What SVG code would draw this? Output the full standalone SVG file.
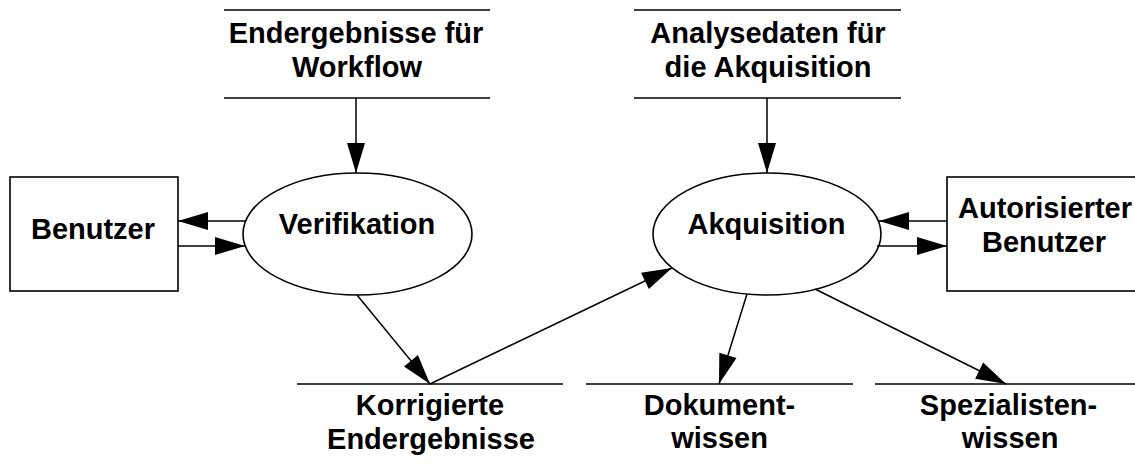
<svg xmlns="http://www.w3.org/2000/svg" width="1135" height="468" viewBox="0 0 1135 468">
<defs>
<style>
.t{font-family:"Liberation Sans",Arial,sans-serif;font-weight:bold;font-size:29px;fill:#000;text-anchor:middle}
.s{fill:#fff;stroke:#000;stroke-width:1.6}
.l{stroke:#000;stroke-width:1.6;fill:none}
.c{stroke:#000;stroke-width:1.5;fill:none;marker-end:url(#ah)}
</style>
<marker id="ah" markerUnits="userSpaceOnUse" markerWidth="30" markerHeight="18" refX="30" refY="9" orient="auto" overflow="visible">
<path d="M0,0 L30,9 L0,18 Z" fill="#000"/>
</marker>
</defs>
<rect width="1135" height="468" fill="#fff"/>
<g id="benutzer">
<rect class="s" x="10" y="177" width="168" height="114"/>
<text class="t" x="93" y="239">Benutzer</text>
</g>
<g id="autorisierter-benutzer">
<rect class="s" x="947" y="177" width="200" height="114"/>
<text class="t" x="1045" y="218">Autorisierter</text>
<text class="t" x="1044" y="252">Benutzer</text>
</g>
<g id="verifikation">
<ellipse class="s" cx="357.5" cy="234" rx="114.5" ry="61"/>
<text class="t" x="357" y="234">Verifikation</text>
</g>
<g id="akquisition">
<ellipse class="s" cx="767" cy="234" rx="114" ry="61"/>
<text class="t" x="766.5" y="234">Akquisition</text>
</g>
<g id="endergebnisse-workflow">
<line class="l" x1="224" y1="10" x2="490" y2="10"/>
<line class="l" x1="224" y1="98" x2="490" y2="98"/>
<text class="t" x="356" y="43">Endergebnisse für</text>
<text class="t" x="357" y="77">Workflow</text>
</g>
<g id="analysedaten">
<line class="l" x1="634" y1="10" x2="901" y2="10"/>
<line class="l" x1="634" y1="98" x2="901" y2="98"/>
<text class="t" x="768" y="43">Analysedaten für</text>
<text class="t" x="768" y="77">die Akquisition</text>
</g>
<g id="korrigierte-endergebnisse">
<line class="l" x1="297" y1="384" x2="563" y2="384"/>
<text class="t" x="430" y="415">Korrigierte</text>
<text class="t" x="431" y="449">Endergebnisse</text>
</g>
<g id="dokumentwissen">
<line class="l" x1="586" y1="384" x2="853" y2="384"/>
<text class="t" x="719.5" y="415">Dokument-</text>
<text class="t" x="719.5" y="448">wissen</text>
</g>
<g id="spezialistenwissen">
<line class="l" x1="875" y1="384" x2="1140" y2="384"/>
<text class="t" x="1008.5" y="415">Spezialisten-</text>
<text class="t" x="1010" y="448">wissen</text>
</g>
<g id="connectors">
<line class="c" x1="356" y1="98" x2="356" y2="173"/>
<line class="c" x1="767" y1="98" x2="767" y2="173"/>
<line class="c" x1="245" y1="221" x2="178" y2="221"/>
<line class="c" x1="178" y1="246" x2="245" y2="246"/>
<line class="c" x1="947" y1="221" x2="879" y2="221"/>
<line class="c" x1="877" y1="246" x2="947" y2="246"/>
<line class="c" x1="357" y1="295" x2="430" y2="384"/>
<line class="c" x1="430" y1="384" x2="672" y2="268"/>
<line class="c" x1="747" y1="294" x2="719" y2="384"/>
<line class="c" x1="815" y1="289" x2="1006" y2="384"/>
</g>
</svg>
